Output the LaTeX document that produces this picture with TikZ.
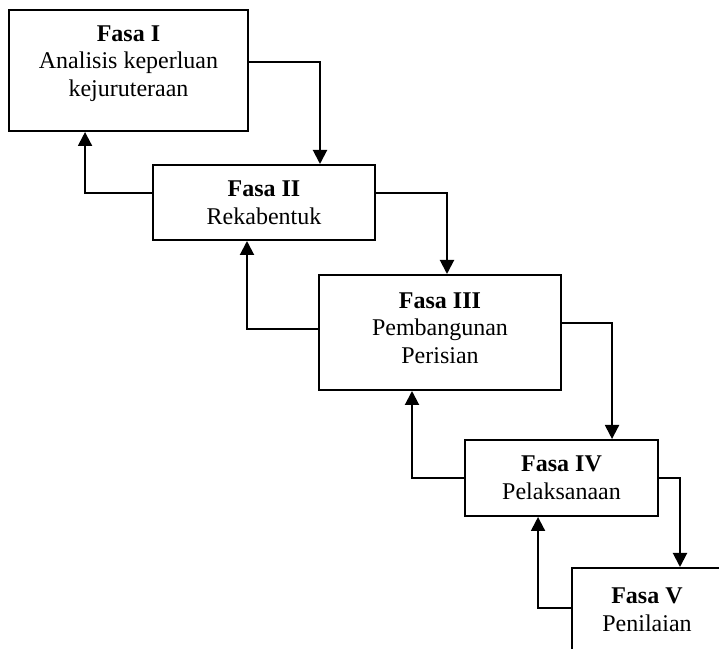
\documentclass[tikz,border=0pt]{standalone}
\usepackage{fontspec}
\setmainfont{Liberation Serif}
\usetikzlibrary{arrows.meta}

\tikzset{every picture/.style={line width=1.5pt}}
\tikzset{
  fasa/.style={draw, line width=1.5pt, align=center, inner sep=0.75pt,
    font=\fontsize{18}{20.7}\selectfont},
  alir/.style={line width=1.5pt, -{Triangle[width=10.5pt,length=10.5pt]}}
}

\begin{document}
\begin{tikzpicture}[x=0.75pt,y=0.75pt,yscale=-1,xscale=1]
     \useasboundingbox (0,0) rectangle (719,649);
     \clip (0,0) rectangle (719,649);
     %Shape: Rectangle [Fasa I]
     \node [fasa, minimum width=179.25pt, minimum height=90.75pt, text depth=14.5pt] (f1) at (128.5,70.5)
        {\textbf{Fasa I}\\Analisis keperluan\\kejuruteraan};
     %Shape: Rectangle [Fasa II]
     \node [fasa, minimum width=166.5pt, minimum height=56.25pt] (f2) at (264,202.5)
        {\textbf{Fasa II}\\Rekabentuk};
     %Shape: Rectangle [Fasa III]
     \node [fasa, minimum width=181.5pt, minimum height=86.25pt, text depth=6.75pt] (f3) at (440,332.5)
        {\textbf{Fasa III}\\Pembangunan\\Perisian};
     %Shape: Rectangle [Fasa IV]
     \node [fasa, minimum width=144.75pt, minimum height=57pt] (f4) at (561.5,478)
        {\textbf{Fasa IV}\\Pelaksanaan};
     %Shape: Rectangle [Fasa V]
     \node [fasa, minimum width=112.5pt, minimum height=63pt] (f5) at (647,610)
        {\textbf{Fasa V}\\Penilaian};
     %Straight Lines: forward
     \draw [alir] ([yshift=-6.4pt]f1.east) -| ([xshift=42pt]f2.north);
     \draw [alir] ([yshift=-7.1pt]f2.east) -| ([xshift=5.25pt]f3.north);
     \draw [alir] ([yshift=-7.1pt]f3.east) -| ([xshift=37.9pt]f4.north);
     \draw [alir] (f4.east) -| ([xshift=24.75pt]f5.north);
     %Straight Lines: back
     \draw [alir] ([yshift=-7.1pt]f2.west) -| ([xshift=-32.6pt]f1.south);
     \draw [alir] ([yshift=-2.6pt]f3.west) -| ([xshift=-12.75pt]f2.south);
     \draw [alir] (f4.west) -| ([xshift=-21pt]f3.south);
     \draw [alir] ([yshift=-1.5pt]f5.west) -| ([xshift=-17.6pt]f4.south);
\end{tikzpicture}
\end{document}
